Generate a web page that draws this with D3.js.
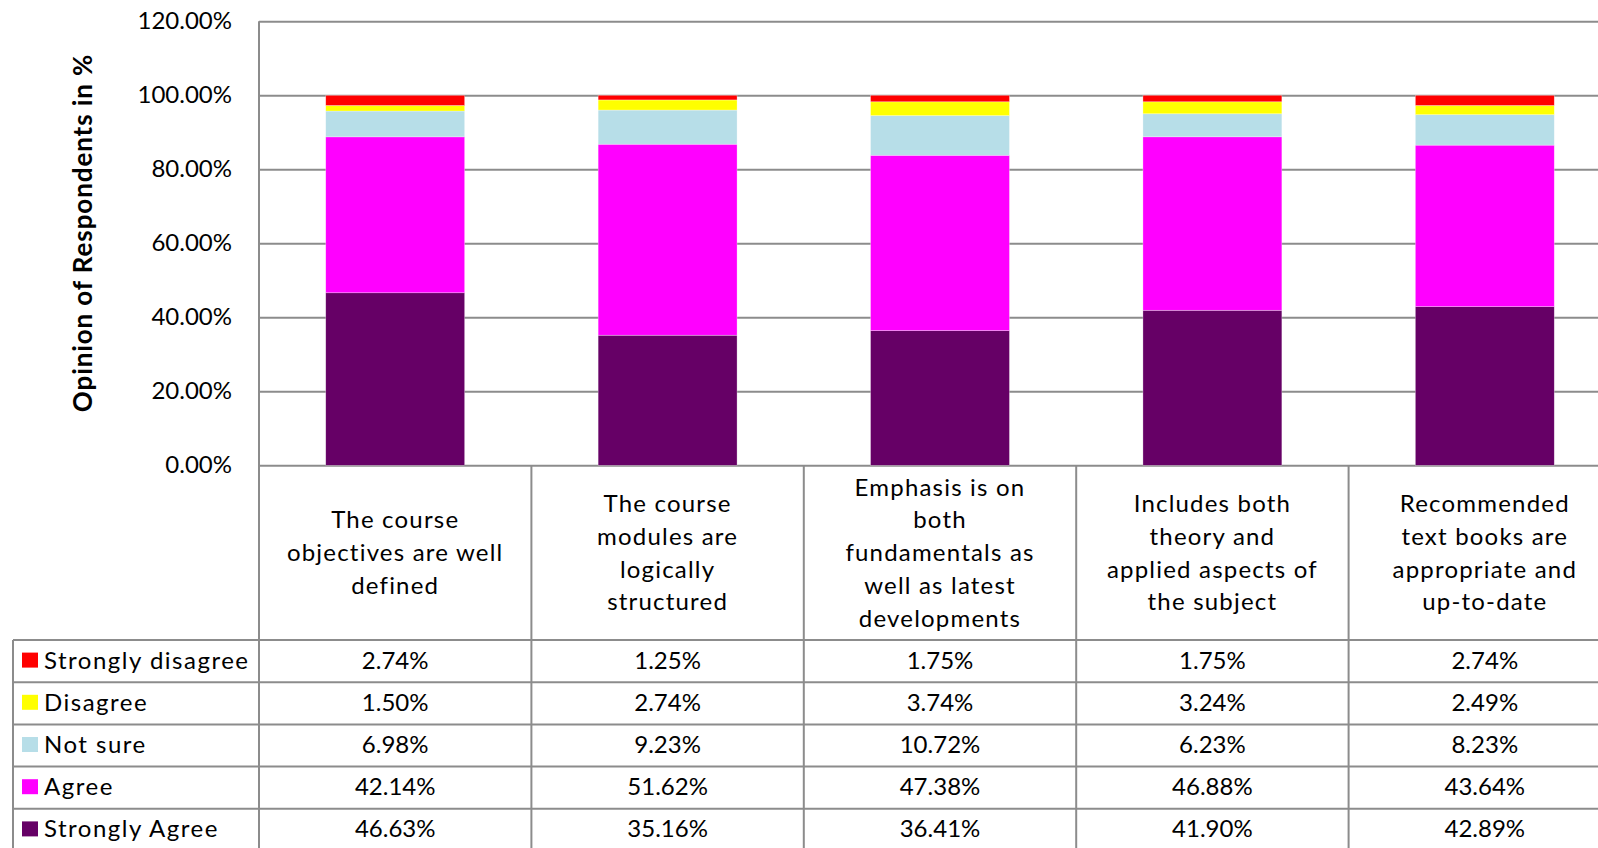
<!DOCTYPE html>
<html><head><meta charset="utf-8">
<script src="https://cdn.jsdelivr.net/npm/d3@7/dist/d3.min.js"></script>
<style>
html,body{margin:0;padding:0;background:#fff;overflow:hidden;}
text{font-family:Lato,"Open Sans",sans-serif;fill:#000;}
</style></head>
<body><svg id="c" width="1598" height="848"></svg>
<script>
// ---- data ----
const categories = [
  "The course\nobjectives are well\ndefined",
  "The course\nmodules are\nlogically\nstructured",
  "Emphasis is on\nboth\nfundamentals as\nwell as latest\ndevelopments",
  "Includes both\ntheory and\napplied aspects of\nthe subject",
  "Recommended\ntext books are\nappropriate and\nup-to-date"
];
const seriesNames = ["Strongly disagree","Disagree","Not sure","Agree","Strongly Agree"];
const stronglyDisagree = [2.74, 1.25, 1.75, 1.75, 2.74];
const disagree         = [1.50, 2.74, 3.74, 3.24, 2.49];
const notSure          = [6.98, 9.23, 10.72, 6.23, 8.23];
const agree            = [42.14, 51.62, 47.38, 46.88, 43.64];
const stronglyAgree    = [46.63, 35.16, 36.41, 41.90, 42.89];
const yTicks = [0, 20, 40, 60, 80, 100, 120];
const seriesColors = ["#FF0000","#FFFF00","#B7DEE8","#FF00FF","#660066"];
const yTitle = "Opinion of Respondents in %";

// ---- layout ----
const svg = d3.select("#c");
const plotL = 259, step = 272.4, plotR = plotL + step * categories.length;
const yTop = 21.3, yBot = 465.3;
const headerBot = 640, rowH = 42.2, tableL = 13;
const gridColor = "#8c8c8c";

const keys = ["sd","d","ns","a","sa"];
const rows = categories.map((c, i) => ({cat: c, sd: stronglyDisagree[i], d: disagree[i], ns: notSure[i], a: agree[i], sa: stronglyAgree[i]}));
const stackOrder = ["sa","a","ns","d","sd"]; // bottom to top
const colorByKey = {}; keys.forEach((k, i) => colorByKey[k] = seriesColors[i]);
const valuesByKey = {sd: stronglyDisagree, d: disagree, ns: notSure, a: agree, sa: stronglyAgree};

const x = d3.scaleBand().domain(categories).range([plotL, plotR]).paddingInner(0.49).paddingOuter(0.245);
const col = d3.scaleBand().domain(categories).range([plotL, plotR]).padding(0);
const y = d3.scaleLinear().domain([0, 120]).range([yBot, yTop]);

// gridlines + tick labels
const yAxis = d3.axisLeft(y).tickValues(yTicks).tickSize(-(plotR - plotL)).tickPadding(27)
  .tickFormat(d => d3.format(".2f")(d) + "%");
const ga = svg.append("g").attr("transform", `translate(${plotL},0)`).call(yAxis);
ga.select(".domain").remove();
ga.selectAll(".tick line").attr("stroke", gridColor).attr("stroke-width", 2);
ga.selectAll(".tick text").attr("font-size", 24).attr("font-family", "Lato, sans-serif").attr("fill", "#000");

// left axis line
svg.append("line").attr("x1", plotL).attr("x2", plotL).attr("y1", y(120)).attr("y2", 848)
  .attr("stroke", gridColor).attr("stroke-width", 2);

// bars
const stack = d3.stack().keys(stackOrder)(rows);
svg.append("g").selectAll("g").data(stack).join("g")
  .attr("fill", d => colorByKey[d.key])
  .selectAll("rect").data(d => d).join("rect")
  .attr("x", d => x(d.data.cat))
  .attr("width", x.bandwidth())
  .attr("y", d => y(d[1]))
  .attr("height", d => y(d[0]) - y(d[1]))
  .attr("stroke", "#ffffff").attr("stroke-opacity", 0.5).attr("stroke-width", 0.6);

// y-axis title
svg.append("text").attr("transform", `translate(82,233) rotate(-90)`)
  .attr("text-anchor", "middle").attr("dominant-baseline", "central")
  .attr("font-size", 26).attr("letter-spacing", 0.9).attr("font-weight", "bold").text(yTitle);

// ---- data table ----
const tg = svg.append("g");
d3.range(categories.length + 1).forEach(k => {
  const xx = plotL + k * step;
  tg.append("line").attr("x1", xx).attr("x2", xx).attr("y1", yBot).attr("y2", 848)
    .attr("stroke", gridColor).attr("stroke-width", 2);
});
tg.append("line").attr("x1", tableL).attr("x2", tableL).attr("y1", headerBot).attr("y2", 848)
  .attr("stroke", gridColor).attr("stroke-width", 2);
d3.range(seriesNames.length + 1).forEach(r => {
  const yy = headerBot + r * rowH;
  tg.append("line").attr("x1", tableL).attr("x2", plotR).attr("y1", yy).attr("y2", yy)
    .attr("stroke", gridColor).attr("stroke-width", 2);
});
// category header labels
const headerMid = (yBot + headerBot) / 2 - 1;
categories.forEach(c => {
  const lines = c.split("\n");
  const lh = 32.8;
  const t = tg.append("text").attr("text-anchor", "middle").attr("font-size", 24)
    .attr("letter-spacing", 1.2);
  lines.forEach((ln, i) => {
    t.append("tspan").attr("x", col(c) + col.bandwidth() / 2)
      .attr("y", headerMid + (i - (lines.length - 1) / 2) * lh)
      .attr("dominant-baseline", "central").text(ln);
  });
});
// rows
seriesNames.forEach((name, r) => {
  const cy = headerBot + rowH * (r + 0.5) - 2;
  tg.append("rect").attr("x", 22).attr("y", cy - 6.5).attr("width", 16).attr("height", 15)
    .attr("fill", seriesColors[r]);
  tg.append("text").attr("x", 44).attr("y", cy).attr("dominant-baseline", "central")
    .attr("font-size", 24).attr("letter-spacing", 1.5).text(name);
  const vals = valuesByKey[keys[r]];
  categories.forEach((c, i) => {
    tg.append("text").attr("x", col(c) + col.bandwidth() / 2).attr("y", cy)
      .attr("text-anchor", "middle").attr("dominant-baseline", "central")
      .attr("font-size", 24).text(d3.format(".2f")(vals[i]) + "%");
  });
});
</script></body></html>
